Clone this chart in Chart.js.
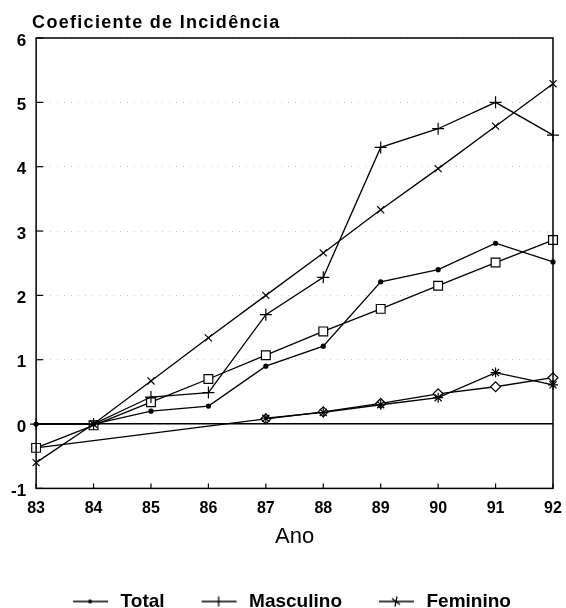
<!DOCTYPE html>
<html>
<head>
<meta charset="utf-8">
<script src="https://cdn.jsdelivr.net/npm/chart.js@4/dist/chart.umd.min.js"></script>
<style>
  html, body { margin: 0; padding: 0; background: #fff; }
  #wrap { width: 566px; height: 608px; position: relative; }
</style>
</head>
<body>
<div id="wrap"><canvas id="c" width="566" height="608"></canvas></div>
<script>
// ---- data ----
const years = ['83', '84', '85', '86', '87', '88', '89', '90', '91', '92'];
const yTickValues = [-1, 0, 1, 2, 3, 4, 5, 6];
const titleText = 'Coeficiente de Incidência';
const xTitle = 'Ano';

const total      = [0, 0, 0.20, 0.28, 0.90, 1.21, 2.21, 2.40, 2.81, 2.52];
const masculino  = [0, 0, 0.42, 0.49, 1.70, 2.28, 4.30, 4.59, 5.00, 4.49];
const feminino   = [null, null, null, null, 0.09, 0.18, 0.30, 0.41, 0.80, 0.61];
const serieX     = [-0.60, 0, 0.67, 1.34, 2.00, 2.66, 3.33, 3.97, 4.63, 5.29];
const serieQuad  = [-0.37, -0.02, 0.34, 0.70, 1.07, 1.44, 1.79, 2.15, 2.51, 2.86];
const serieLos   = [-0.37, null, null, null, 0.08, 0.19, 0.32, 0.47, 0.58, 0.72];

const FONT = '"Liberation Sans", Arial, sans-serif';

// legend icons: short line with the series marker in the middle
function makeIcon(kind) {
  const c = document.createElement('canvas');
  c.width = 40; c.height = 14;
  const g = c.getContext('2d');
  g.strokeStyle = '#000'; g.fillStyle = '#000'; g.lineWidth = 1.3;
  g.beginPath(); g.moveTo(2, 7); g.lineTo(37, 7); g.stroke();
  const cx = 19, cy = 7;
  if (kind === 'dot') {
    g.beginPath(); g.arc(cx, cy, 2, 0, Math.PI * 2); g.fill();
  } else if (kind === 'plus') {
    g.beginPath(); g.moveTo(cx, cy - 5); g.lineTo(cx, cy + 5); g.stroke();
  } else {
    g.beginPath(); g.moveTo(cx + 1, cy - 5); g.lineTo(cx - 1, cy + 5);
    g.moveTo(cx - 4, cy - 3); g.lineTo(cx + 4, cy + 3); g.stroke();
  }
  return c;
}
const legendIcons = [makeIcon('dot'), makeIcon('plus'), makeIcon('star')];

const framePlugin = {
  id: 'frame',
  afterDraw(chart) {
    const { ctx, chartArea: a, scales: { x, y } } = chart;
    ctx.save();
    ctx.strokeStyle = '#000';
    ctx.lineWidth = 1.5;
    ctx.strokeRect(a.left, a.top, a.right - a.left, a.bottom - a.top);
    ctx.lineWidth = 1.2;
    y.ticks.forEach((t, i) => {
      const py = y.getPixelForTick(i);
      ctx.beginPath(); ctx.moveTo(a.left, py); ctx.lineTo(a.left + 7, py); ctx.stroke();
    });
    x.ticks.forEach((t, i) => {
      const px = x.getPixelForTick(i);
      ctx.beginPath(); ctx.moveTo(px, a.bottom); ctx.lineTo(px, a.bottom - 5); ctx.stroke();
    });
    ctx.fillStyle = '#000';
    ctx.font = 'bold 18px ' + FONT;
    try { ctx.letterSpacing = '1.3px'; } catch (e) {}
    ctx.textAlign = 'left';
    ctx.textBaseline = 'alphabetic';
    ctx.fillText(titleText, a.left - 4, 28);
    ctx.restore();
  }
};

function ds(label, data, style, radius, fill) {
  return {
    label, data,
    borderColor: '#000', borderWidth: 1.3,
    pointStyle: style, pointRadius: radius,
    pointBackgroundColor: fill, pointBorderColor: '#000', pointBorderWidth: 1.2,
    pointHoverRadius: radius,
    tension: 0, spanGaps: true, fill: false
  };
}

const losRadius = serieLos.map((v, i) => (i === 0 ? 0 : 5));

new Chart(document.getElementById('c'), {
  type: 'line',
  data: {
    labels: years,
    datasets: [
      ds('Total', total, 'circle', 2, '#000'),
      ds('Masculino', masculino, 'cross', 6, '#000'),
      ds('Feminino', feminino, 'star', 5, '#000'),
      ds('X', serieX, 'crossRot', 5, '#000'),
      ds('Q', serieQuad, 'rect', 6.2, '#fff'),
      Object.assign(ds('D', serieLos, 'rectRot', 5, '#fff'), { pointRadius: losRadius })
    ]
  },
  options: {
    responsive: false,
    animation: false,
    layout: { padding: { left: 1, right: 13, top: 38, bottom: -13 } },
    scales: {
      x: {
        type: 'category',
        offset: false,
        grid: { display: false, drawTicks: false },
        border: { display: false },
        ticks: { color: '#000', font: { family: FONT, size: 16, weight: 'bold' }, padding: 11, maxRotation: 0, autoSkip: false },
        title: { display: true, text: xTitle, color: '#000', font: { family: FONT, size: 22 }, padding: { top: -6, bottom: 7 } },
        afterFit(scale) { scale.paddingLeft = 0; scale.paddingRight = 0; }
      },
      y: {
        min: -1, max: 6,
        afterBuildTicks(scale) { scale.ticks = yTickValues.map(v => ({ value: v })); },
        grid: {
          drawTicks: false,
          color: c => (c.tick && c.tick.value === 0 ? '#000' : '#c8c8c8'),
          lineWidth: c => (c.tick && c.tick.value === 0 ? 1.4 : 1)
        },
        border: { display: false, dash: c => (c.tick && c.tick.value === 0 ? [] : [1, 6]) },
        ticks: { color: '#000', font: { family: FONT, size: 17, weight: 'bold' }, padding: 10, labelOffset: 3 }
      }
    },
    plugins: {
      title: { display: false },
      tooltip: { enabled: false },
      legend: {
        position: 'bottom',
        fullSize: false,
        align: 'start',
        labels: {
          usePointStyle: true,
          pointStyleWidth: 40,
          padding: 35,
          color: '#000',
          font: { family: FONT, size: 19, weight: 'bold' },
          generateLabels(chart) {
            const items = Chart.defaults.plugins.legend.labels.generateLabels(chart);
            items.forEach(it => { if (it.datasetIndex < 3) it.pointStyle = legendIcons[it.datasetIndex]; });
            return items;
          },
          filter: it => it.datasetIndex < 3
        }
      }
    }
  },
  plugins: [framePlugin]
});
</script>
</body>
</html>
